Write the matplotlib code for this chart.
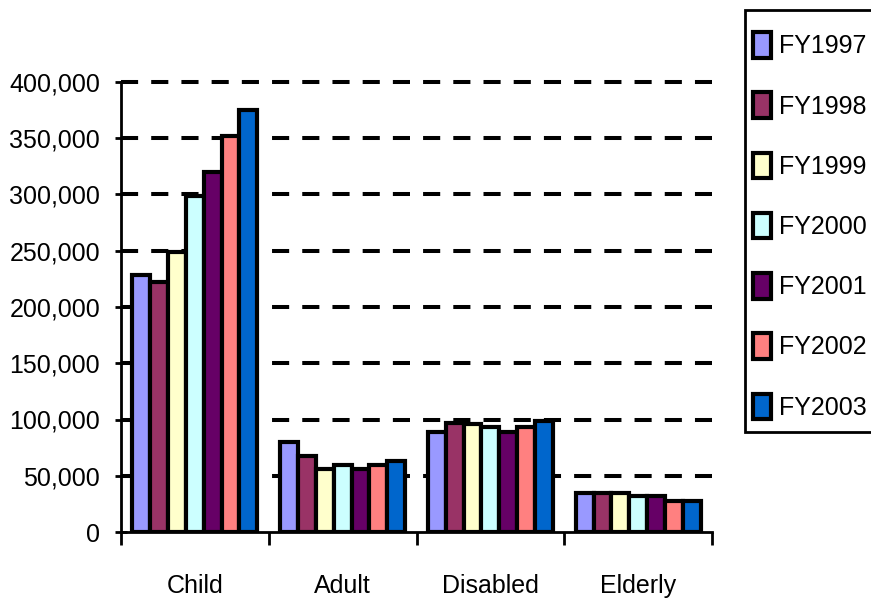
import matplotlib
matplotlib.use("Agg")
import matplotlib.pyplot as plt
import numpy as np
from matplotlib.ticker import FuncFormatter
from matplotlib.patches import Rectangle

plt.rcParams['font.family'] = ['Liberation Sans', 'DejaVu Sans']

categories = ["Child", "Adult", "Disabled", "Elderly"]
series_names = ["FY1997", "FY1998", "FY1999", "FY2000", "FY2001", "FY2002", "FY2003"]
fy1997 = [228000, 80000, 89000, 35000]
fy1998 = [222000, 68000, 97000, 35000]
fy1999 = [249000, 56000, 96000, 35000]
fy2000 = [299000, 60000, 93000, 32000]
fy2001 = [320000, 56000, 89000, 32000]
fy2002 = [352000, 60000, 93000, 28000]
fy2003 = [375000, 63000, 99000, 28000]
series_values = [fy1997, fy1998, fy1999, fy2000, fy2001, fy2002, fy2003]
colors = ["#9999FF", "#993366", "#FFFFCC", "#CCFFFF", "#660066", "#FF8080", "#0066CC"]
yticks = [0, 50000, 100000, 150000, 200000, 250000, 300000, 350000, 400000]

W, H = 871, 607
fig = plt.figure(figsize=(W / 100, H / 100), dpi=100)
ax = fig.add_axes([121 / W, 1 - 532 / H, (712 - 121) / W, (532 - 82) / H])

n = len(series_names)
bw = 0.845 / n
x = np.arange(len(categories))
for i, (name, vals, c) in enumerate(zip(series_names, series_values, colors)):
    offs = (i - (n - 1) / 2) * bw
    ax.bar(x + offs, vals, width=bw, color=c, edgecolor="black", linewidth=3,
           label=name, zorder=3)

ax.set_xlim(-0.5, len(categories) - 0.5)
ax.set_ylim(0, 400000)
ax.set_yticks(yticks)
ax.yaxis.set_major_formatter(FuncFormatter(lambda v, p: f"{int(v):,}"))
for t in yticks[1:]:
    ax.axhline(t, color="black", lw=2.9, dashes=(17 / 4, 13 / 4), zorder=1,
               clip_on=False)

ax.set_xticks(np.arange(-0.5, len(categories), 1.0))
ax.set_xticklabels([])
ax.set_xticks(x, minor=True)
ax.set_xticklabels(categories, minor=True, fontsize=18)
ax.tick_params(axis="x", which="major", direction="out", length=9, width=2)
ax.tick_params(axis="x", which="minor", length=0, pad=30)
ax.tick_params(axis="y", direction="inout", length=8, width=2, labelsize=18, pad=11)

for s in ["top", "right"]:
    ax.spines[s].set_visible(False)
for s in ["left", "bottom"]:
    ax.spines[s].set_linewidth(2)

# legend frame
fig.patches.append(Rectangle((745 / W, 1 - 432 / H), 0.5, (432 - 10) / H,
                             transform=fig.transFigure, facecolor="white",
                             edgecolor="black", linewidth=2, zorder=0))

handles, labels = ax.get_legend_handles_labels()
leg = fig.legend(handles, labels, loc="upper left",
                 bbox_to_anchor=(753 / W, 1 - 32 / H), fontsize=18,
                 frameon=False, handlelength=0.72, handleheight=1.2,
                 handletextpad=0.3, labelspacing=1.36, borderpad=0,
                 borderaxespad=0)
for p in leg.get_patches():
    p.set_linewidth(3)

fig.savefig("out.png", dpi=100)
